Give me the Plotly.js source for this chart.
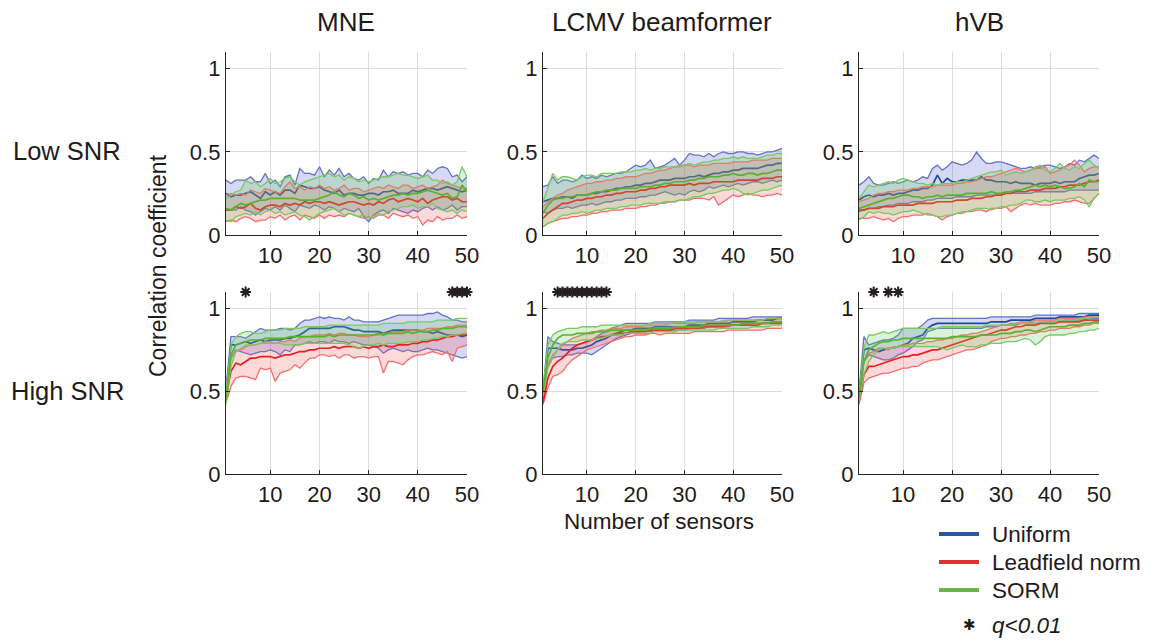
<!DOCTYPE html>
<html>
<head>
<meta charset="utf-8">
<script src="https://cdn.plot.ly/plotly-3.0.1.min.js"></script>
<style>html,body{margin:0;padding:0;background:#fff;}#chart{width:1153px;height:643px;}</style>
</head>
<body>
<div id="chart"></div>
<script>
// ---------------- DATA ----------------
const sensors = [1,2,3,4,5,6,7,8,9,10,11,12,13,14,15,16,17,18,19,20,21,22,23,24,25,26,27,28,29,30,31,32,33,34,35,36,37,38,39,40,41,42,43,44,45,46,47,48,49,50];
const methods = ["MNE", "LCMV beamformer", "hVB"];
const snrLevels = ["Low SNR", "High SNR"];
const seriesNames = ["Uniform", "Leadfield norm", "SORM"];
const yTicks = [0, 0.5, 1];
const xTicks = [10, 20, 30, 40, 50];

// ---- MNE, Low SNR ----
const mneLoUniHi = [0.33,0.31,0.33,0.33,0.33,0.35,0.32,0.32,0.37,0.31,0.33,0.29,0.35,0.36,0.30,0.40,0.37,0.37,0.36,0.41,0.35,0.39,0.36,0.40,0.35,0.37,0.34,0.33,0.35,0.31,0.34,0.33,0.39,0.35,0.38,0.37,0.38,0.36,0.37,0.37,0.35,0.39,0.37,0.40,0.41,0.40,0.35,0.36,0.32,0.35];
const mneLoUniMean = [0.25,0.23,0.24,0.24,0.25,0.26,0.24,0.22,0.26,0.24,0.26,0.24,0.27,0.27,0.25,0.30,0.29,0.28,0.28,0.29,0.27,0.26,0.25,0.27,0.24,0.25,0.25,0.24,0.24,0.25,0.25,0.24,0.26,0.26,0.27,0.25,0.25,0.25,0.27,0.26,0.27,0.28,0.28,0.27,0.28,0.29,0.28,0.27,0.26,0.27];
const mneLoUniLo = [0.16,0.15,0.15,0.17,0.15,0.14,0.12,0.14,0.16,0.15,0.17,0.15,0.18,0.16,0.14,0.18,0.17,0.16,0.18,0.17,0.15,0.17,0.16,0.14,0.16,0.15,0.14,0.16,0.11,0.08,0.12,0.14,0.15,0.13,0.16,0.15,0.14,0.13,0.15,0.14,0.16,0.17,0.15,0.17,0.15,0.16,0.18,0.15,0.17,0.17];
const mneLoLfnHi = [0.24,0.25,0.24,0.25,0.24,0.27,0.26,0.25,0.28,0.27,0.26,0.25,0.29,0.32,0.28,0.29,0.27,0.29,0.28,0.30,0.28,0.29,0.27,0.28,0.30,0.27,0.28,0.28,0.26,0.27,0.28,0.29,0.28,0.30,0.29,0.28,0.30,0.30,0.28,0.29,0.30,0.28,0.29,0.30,0.33,0.31,0.30,0.29,0.28,0.28];
const mneLoLfnMean = [0.15,0.15,0.17,0.16,0.17,0.19,0.16,0.15,0.17,0.18,0.18,0.17,0.19,0.18,0.19,0.18,0.20,0.19,0.20,0.20,0.19,0.20,0.19,0.18,0.19,0.20,0.20,0.19,0.18,0.19,0.18,0.20,0.19,0.21,0.22,0.20,0.21,0.22,0.21,0.20,0.22,0.19,0.21,0.22,0.23,0.23,0.21,0.22,0.20,0.20];
const mneLoLfnLo = [0.08,0.09,0.08,0.10,0.11,0.10,0.08,0.09,0.09,0.11,0.10,0.12,0.09,0.11,0.12,0.09,0.12,0.11,0.10,0.12,0.10,0.12,0.11,0.12,0.11,0.13,0.12,0.11,0.10,0.11,0.10,0.12,0.12,0.10,0.13,0.12,0.11,0.12,0.10,0.11,0.06,0.09,0.08,0.11,0.09,0.10,0.10,0.12,0.10,0.11];
const mneLoSormHi = [0.22,0.24,0.26,0.27,0.33,0.31,0.32,0.29,0.31,0.34,0.31,0.32,0.34,0.35,0.32,0.30,0.32,0.33,0.34,0.35,0.36,0.37,0.35,0.36,0.33,0.35,0.34,0.32,0.33,0.32,0.33,0.34,0.35,0.35,0.36,0.37,0.36,0.36,0.35,0.34,0.35,0.36,0.33,0.33,0.31,0.32,0.30,0.32,0.41,0.35];
const mneLoSormMean = [0.16,0.15,0.17,0.19,0.18,0.19,0.20,0.21,0.21,0.22,0.22,0.22,0.22,0.22,0.22,0.21,0.21,0.21,0.21,0.22,0.23,0.24,0.26,0.24,0.23,0.25,0.24,0.22,0.23,0.21,0.22,0.21,0.22,0.23,0.24,0.24,0.25,0.24,0.25,0.25,0.26,0.27,0.26,0.25,0.24,0.25,0.22,0.23,0.30,0.26];
const mneLoSormLo = [0.09,0.08,0.11,0.12,0.13,0.12,0.14,0.12,0.14,0.15,0.13,0.14,0.12,0.13,0.14,0.12,0.11,0.09,0.11,0.13,0.14,0.15,0.16,0.14,0.12,0.13,0.12,0.11,0.12,0.10,0.11,0.13,0.12,0.14,0.15,0.16,0.17,0.17,0.18,0.16,0.17,0.17,0.19,0.16,0.15,0.14,0.15,0.13,0.15,0.14];

// ---- LCMV, Low SNR ----
const lcmvLoUniHi = [0.29,0.30,0.35,0.31,0.33,0.33,0.32,0.33,0.36,0.34,0.35,0.34,0.36,0.35,0.36,0.37,0.37,0.38,0.40,0.42,0.41,0.42,0.45,0.40,0.41,0.42,0.44,0.46,0.42,0.45,0.49,0.48,0.48,0.47,0.49,0.47,0.49,0.50,0.49,0.49,0.50,0.50,0.49,0.49,0.48,0.49,0.50,0.50,0.51,0.52];
const lcmvLoUniMean = [0.20,0.21,0.22,0.22,0.23,0.23,0.22,0.24,0.24,0.24,0.25,0.25,0.26,0.26,0.27,0.28,0.28,0.29,0.29,0.30,0.30,0.31,0.31,0.32,0.33,0.33,0.33,0.34,0.34,0.34,0.35,0.35,0.36,0.35,0.36,0.37,0.37,0.38,0.38,0.39,0.39,0.40,0.40,0.40,0.40,0.41,0.42,0.42,0.43,0.43];
const lcmvLoUniLo = [0.14,0.13,0.15,0.16,0.16,0.17,0.16,0.17,0.18,0.18,0.19,0.18,0.19,0.20,0.20,0.21,0.21,0.22,0.22,0.22,0.23,0.23,0.24,0.24,0.25,0.26,0.25,0.24,0.25,0.24,0.26,0.27,0.26,0.27,0.29,0.28,0.29,0.30,0.29,0.30,0.31,0.30,0.31,0.32,0.32,0.31,0.32,0.33,0.32,0.33];
const lcmvLoLfnHi = [0.17,0.20,0.22,0.24,0.25,0.27,0.28,0.29,0.30,0.31,0.31,0.32,0.32,0.33,0.33,0.34,0.34,0.35,0.35,0.35,0.36,0.37,0.37,0.38,0.39,0.39,0.40,0.41,0.41,0.42,0.42,0.41,0.42,0.42,0.42,0.43,0.43,0.43,0.43,0.44,0.44,0.44,0.44,0.45,0.45,0.45,0.45,0.46,0.46,0.46];
const lcmvLoLfnMean = [0.10,0.13,0.15,0.17,0.19,0.19,0.20,0.21,0.21,0.22,0.22,0.23,0.23,0.24,0.24,0.25,0.25,0.26,0.26,0.26,0.27,0.27,0.28,0.28,0.29,0.29,0.30,0.30,0.30,0.30,0.31,0.30,0.31,0.31,0.31,0.32,0.32,0.32,0.32,0.32,0.33,0.33,0.33,0.33,0.33,0.34,0.34,0.34,0.35,0.35];
const lcmvLoLfnLo = [0.05,0.07,0.08,0.09,0.10,0.10,0.11,0.11,0.12,0.12,0.13,0.13,0.14,0.14,0.15,0.15,0.15,0.16,0.16,0.16,0.17,0.17,0.18,0.18,0.19,0.19,0.20,0.20,0.21,0.21,0.21,0.22,0.22,0.22,0.21,0.23,0.18,0.20,0.22,0.24,0.23,0.24,0.25,0.24,0.24,0.23,0.24,0.24,0.25,0.24];
const lcmvLoSormHi = [0.20,0.28,0.37,0.33,0.35,0.35,0.34,0.33,0.35,0.36,0.36,0.35,0.37,0.37,0.37,0.37,0.38,0.38,0.38,0.39,0.39,0.40,0.39,0.40,0.40,0.41,0.41,0.41,0.42,0.42,0.43,0.42,0.43,0.44,0.44,0.45,0.45,0.46,0.46,0.47,0.46,0.47,0.46,0.46,0.46,0.47,0.48,0.48,0.49,0.49];
const lcmvLoSormMean = [0.13,0.18,0.21,0.22,0.22,0.23,0.23,0.24,0.24,0.24,0.25,0.26,0.26,0.27,0.27,0.27,0.28,0.28,0.28,0.28,0.29,0.29,0.29,0.30,0.30,0.31,0.31,0.32,0.32,0.32,0.33,0.33,0.34,0.34,0.35,0.35,0.35,0.36,0.36,0.37,0.36,0.36,0.37,0.37,0.36,0.37,0.37,0.38,0.39,0.39];
const lcmvLoSormLo = [0.05,0.07,0.08,0.10,0.12,0.12,0.13,0.13,0.14,0.13,0.14,0.15,0.15,0.16,0.16,0.16,0.17,0.17,0.18,0.18,0.18,0.19,0.19,0.19,0.19,0.20,0.20,0.20,0.21,0.21,0.22,0.23,0.23,0.24,0.25,0.25,0.26,0.27,0.27,0.28,0.27,0.25,0.24,0.25,0.26,0.27,0.27,0.28,0.29,0.30];

// ---- hVB, Low SNR ----
const hvbLoUniHi = [0.30,0.32,0.35,0.31,0.30,0.30,0.31,0.32,0.31,0.32,0.33,0.32,0.33,0.35,0.34,0.40,0.42,0.39,0.41,0.44,0.43,0.42,0.43,0.45,0.50,0.46,0.43,0.43,0.44,0.44,0.43,0.42,0.41,0.40,0.40,0.41,0.40,0.41,0.42,0.42,0.41,0.40,0.41,0.43,0.42,0.45,0.44,0.46,0.48,0.46];
const hvbLoUniMean = [0.21,0.23,0.24,0.23,0.24,0.24,0.25,0.24,0.25,0.25,0.26,0.27,0.27,0.28,0.28,0.30,0.36,0.31,0.34,0.32,0.32,0.33,0.33,0.33,0.33,0.35,0.33,0.33,0.32,0.32,0.32,0.31,0.32,0.31,0.31,0.31,0.30,0.31,0.31,0.31,0.32,0.31,0.32,0.32,0.32,0.34,0.35,0.36,0.36,0.37];
const hvbLoUniLo = [0.14,0.15,0.16,0.16,0.17,0.17,0.18,0.18,0.19,0.19,0.19,0.20,0.20,0.20,0.21,0.21,0.22,0.22,0.22,0.22,0.23,0.23,0.23,0.23,0.24,0.24,0.24,0.24,0.24,0.24,0.25,0.25,0.25,0.25,0.25,0.25,0.26,0.26,0.26,0.26,0.26,0.26,0.26,0.27,0.27,0.27,0.27,0.27,0.27,0.27];
const hvbLoLfnHi = [0.20,0.21,0.22,0.24,0.25,0.25,0.26,0.26,0.27,0.27,0.27,0.28,0.28,0.29,0.29,0.29,0.30,0.30,0.30,0.30,0.31,0.31,0.32,0.32,0.33,0.34,0.35,0.35,0.36,0.37,0.38,0.39,0.40,0.39,0.38,0.39,0.40,0.40,0.41,0.37,0.38,0.39,0.41,0.42,0.45,0.42,0.38,0.40,0.41,0.41];
const hvbLoLfnMean = [0.15,0.15,0.16,0.16,0.16,0.17,0.17,0.17,0.18,0.18,0.18,0.18,0.19,0.19,0.19,0.19,0.20,0.20,0.20,0.20,0.21,0.21,0.21,0.22,0.22,0.22,0.23,0.23,0.24,0.24,0.25,0.25,0.26,0.26,0.26,0.27,0.27,0.27,0.28,0.28,0.28,0.29,0.29,0.30,0.30,0.30,0.31,0.32,0.32,0.33];
const hvbLoLfnLo = [0.10,0.10,0.10,0.11,0.10,0.09,0.10,0.08,0.10,0.11,0.11,0.12,0.12,0.12,0.13,0.12,0.11,0.09,0.11,0.12,0.13,0.13,0.14,0.14,0.15,0.15,0.14,0.16,0.16,0.16,0.17,0.14,0.16,0.18,0.19,0.18,0.19,0.18,0.18,0.18,0.19,0.19,0.20,0.20,0.21,0.20,0.19,0.19,0.22,0.25];
const hvbLoSormHi = [0.22,0.26,0.30,0.29,0.30,0.31,0.32,0.31,0.33,0.34,0.33,0.32,0.31,0.31,0.30,0.31,0.30,0.31,0.31,0.31,0.32,0.32,0.33,0.34,0.35,0.36,0.37,0.38,0.38,0.39,0.36,0.37,0.38,0.37,0.38,0.39,0.41,0.42,0.39,0.38,0.40,0.43,0.40,0.39,0.41,0.40,0.43,0.45,0.42,0.40];
const hvbLoSormMean = [0.16,0.17,0.18,0.19,0.20,0.21,0.22,0.22,0.23,0.24,0.24,0.23,0.23,0.22,0.23,0.23,0.24,0.23,0.24,0.24,0.24,0.24,0.25,0.25,0.25,0.25,0.25,0.26,0.25,0.25,0.26,0.26,0.27,0.27,0.28,0.29,0.30,0.29,0.30,0.29,0.30,0.29,0.28,0.28,0.29,0.31,0.29,0.33,0.32,0.32];
const hvbLoSormLo = [0.09,0.11,0.14,0.13,0.14,0.13,0.13,0.12,0.13,0.14,0.14,0.15,0.14,0.13,0.12,0.12,0.11,0.11,0.12,0.12,0.13,0.14,0.14,0.15,0.16,0.16,0.16,0.15,0.16,0.17,0.17,0.18,0.18,0.19,0.21,0.21,0.20,0.20,0.21,0.20,0.21,0.21,0.21,0.22,0.22,0.23,0.21,0.17,0.22,0.25];

// ---- MNE, High SNR ----
const mneHiUniHi = [0.52,0.83,0.83,0.83,0.82,0.84,0.86,0.88,0.87,0.87,0.87,0.88,0.88,0.87,0.88,0.91,0.93,0.93,0.94,0.95,0.94,0.95,0.94,0.94,0.93,0.95,0.93,0.93,0.92,0.92,0.92,0.92,0.93,0.94,0.95,0.96,0.96,0.96,0.96,0.96,0.96,0.97,0.97,0.98,0.96,0.95,0.93,0.93,0.92,0.92];
const mneHiUniMean = [0.48,0.78,0.78,0.79,0.80,0.79,0.80,0.81,0.80,0.81,0.81,0.81,0.82,0.82,0.83,0.84,0.86,0.88,0.88,0.88,0.88,0.88,0.89,0.89,0.89,0.88,0.87,0.87,0.86,0.86,0.86,0.86,0.85,0.86,0.87,0.87,0.87,0.87,0.87,0.87,0.86,0.86,0.85,0.86,0.85,0.84,0.84,0.84,0.83,0.84];
const mneHiUniLo = [0.45,0.70,0.75,0.74,0.73,0.72,0.73,0.74,0.74,0.75,0.74,0.72,0.75,0.74,0.78,0.78,0.79,0.80,0.79,0.80,0.80,0.79,0.81,0.80,0.80,0.79,0.80,0.79,0.78,0.78,0.77,0.76,0.73,0.75,0.76,0.75,0.74,0.75,0.74,0.74,0.75,0.76,0.75,0.75,0.74,0.73,0.72,0.71,0.70,0.71];
const mneHiLfnHi = [0.52,0.70,0.74,0.75,0.77,0.78,0.78,0.79,0.80,0.80,0.79,0.80,0.80,0.81,0.80,0.82,0.83,0.83,0.84,0.84,0.84,0.85,0.84,0.85,0.85,0.84,0.84,0.83,0.83,0.83,0.84,0.84,0.85,0.85,0.86,0.86,0.86,0.87,0.87,0.87,0.87,0.88,0.88,0.88,0.88,0.89,0.89,0.90,0.90,0.90];
const mneHiLfnMean = [0.47,0.62,0.67,0.66,0.68,0.70,0.70,0.71,0.71,0.71,0.70,0.71,0.72,0.72,0.73,0.74,0.74,0.75,0.75,0.76,0.76,0.76,0.77,0.76,0.77,0.77,0.77,0.76,0.77,0.76,0.77,0.77,0.78,0.77,0.77,0.78,0.78,0.78,0.79,0.79,0.80,0.80,0.81,0.81,0.82,0.83,0.83,0.84,0.84,0.84];
const mneHiLfnLo = [0.43,0.53,0.58,0.59,0.59,0.58,0.57,0.64,0.63,0.64,0.56,0.61,0.62,0.63,0.66,0.64,0.67,0.70,0.70,0.72,0.72,0.71,0.72,0.70,0.72,0.72,0.70,0.71,0.71,0.70,0.71,0.71,0.61,0.68,0.68,0.67,0.66,0.69,0.71,0.72,0.72,0.73,0.74,0.73,0.72,0.74,0.68,0.76,0.77,0.78];
const mneHiSormHi = [0.50,0.78,0.83,0.85,0.86,0.86,0.85,0.85,0.86,0.87,0.87,0.87,0.88,0.88,0.88,0.88,0.89,0.89,0.89,0.89,0.89,0.90,0.90,0.90,0.90,0.90,0.90,0.90,0.90,0.90,0.90,0.90,0.91,0.91,0.91,0.91,0.91,0.92,0.92,0.92,0.92,0.92,0.92,0.93,0.93,0.93,0.93,0.94,0.94,0.94];
const mneHiSormMean = [0.45,0.72,0.78,0.79,0.80,0.81,0.81,0.81,0.82,0.82,0.82,0.82,0.82,0.83,0.83,0.83,0.83,0.83,0.83,0.83,0.83,0.84,0.83,0.84,0.84,0.84,0.84,0.84,0.84,0.84,0.84,0.85,0.84,0.85,0.85,0.85,0.85,0.86,0.85,0.86,0.86,0.86,0.87,0.87,0.88,0.88,0.88,0.89,0.89,0.89];
const mneHiSormLo = [0.42,0.65,0.74,0.76,0.78,0.78,0.78,0.79,0.79,0.79,0.79,0.79,0.78,0.78,0.78,0.78,0.79,0.79,0.79,0.79,0.79,0.79,0.79,0.79,0.79,0.78,0.77,0.76,0.77,0.78,0.78,0.79,0.78,0.79,0.79,0.79,0.79,0.80,0.80,0.80,0.81,0.81,0.82,0.82,0.83,0.83,0.84,0.84,0.85,0.85];

// ---- LCMV, High SNR ----
const lcmvHiUniHi = [0.50,0.83,0.80,0.79,0.78,0.78,0.78,0.78,0.79,0.80,0.81,0.83,0.85,0.86,0.88,0.89,0.90,0.91,0.91,0.91,0.91,0.91,0.91,0.92,0.92,0.92,0.92,0.92,0.92,0.92,0.93,0.93,0.93,0.93,0.93,0.93,0.94,0.94,0.94,0.94,0.94,0.94,0.94,0.95,0.95,0.95,0.95,0.95,0.95,0.95];
const lcmvHiUniMean = [0.47,0.76,0.76,0.76,0.75,0.75,0.75,0.76,0.76,0.77,0.78,0.80,0.81,0.82,0.84,0.85,0.86,0.87,0.87,0.88,0.88,0.88,0.88,0.89,0.89,0.89,0.89,0.89,0.89,0.89,0.90,0.90,0.90,0.90,0.91,0.91,0.91,0.91,0.91,0.92,0.92,0.92,0.92,0.92,0.93,0.93,0.93,0.93,0.94,0.94];
const lcmvHiUniLo = [0.45,0.66,0.70,0.71,0.71,0.72,0.72,0.73,0.73,0.73,0.72,0.74,0.76,0.78,0.80,0.82,0.83,0.84,0.85,0.85,0.86,0.86,0.86,0.87,0.87,0.87,0.87,0.87,0.87,0.87,0.88,0.88,0.88,0.88,0.89,0.89,0.89,0.89,0.89,0.90,0.90,0.90,0.90,0.91,0.91,0.91,0.91,0.91,0.92,0.92];
const lcmvHiLfnHi = [0.47,0.66,0.72,0.75,0.78,0.80,0.82,0.83,0.84,0.85,0.86,0.86,0.87,0.87,0.88,0.88,0.88,0.89,0.89,0.89,0.89,0.90,0.90,0.90,0.90,0.90,0.91,0.91,0.91,0.91,0.91,0.91,0.92,0.92,0.92,0.92,0.92,0.92,0.93,0.93,0.93,0.93,0.93,0.93,0.93,0.93,0.94,0.94,0.94,0.94];
const lcmvHiLfnMean = [0.43,0.58,0.65,0.68,0.70,0.73,0.76,0.78,0.79,0.80,0.81,0.82,0.83,0.83,0.84,0.84,0.85,0.85,0.86,0.86,0.86,0.86,0.87,0.87,0.87,0.87,0.87,0.88,0.88,0.88,0.88,0.88,0.88,0.89,0.89,0.89,0.89,0.89,0.90,0.90,0.90,0.90,0.90,0.90,0.90,0.91,0.91,0.91,0.91,0.91];
const lcmvHiLfnLo = [0.42,0.52,0.59,0.60,0.62,0.66,0.69,0.71,0.73,0.75,0.76,0.77,0.78,0.79,0.80,0.81,0.82,0.83,0.83,0.84,0.84,0.84,0.85,0.85,0.84,0.85,0.85,0.85,0.85,0.85,0.85,0.86,0.86,0.86,0.86,0.86,0.86,0.86,0.87,0.87,0.87,0.87,0.87,0.87,0.87,0.87,0.88,0.88,0.88,0.88];
const lcmvHiSormHi = [0.52,0.78,0.84,0.86,0.87,0.88,0.88,0.88,0.89,0.89,0.89,0.89,0.90,0.90,0.90,0.90,0.90,0.90,0.90,0.90,0.90,0.90,0.91,0.91,0.91,0.91,0.91,0.91,0.92,0.92,0.92,0.92,0.92,0.92,0.92,0.92,0.92,0.93,0.93,0.93,0.93,0.93,0.93,0.93,0.93,0.93,0.94,0.94,0.94,0.94];
const lcmvHiSormMean = [0.50,0.70,0.78,0.82,0.84,0.84,0.84,0.85,0.85,0.85,0.85,0.86,0.86,0.86,0.87,0.87,0.87,0.87,0.87,0.87,0.87,0.87,0.88,0.88,0.88,0.88,0.88,0.89,0.89,0.89,0.89,0.89,0.89,0.90,0.90,0.90,0.90,0.90,0.90,0.90,0.90,0.91,0.91,0.91,0.91,0.91,0.91,0.92,0.92,0.92];
const lcmvHiSormLo = [0.47,0.64,0.70,0.75,0.79,0.80,0.80,0.80,0.81,0.81,0.81,0.82,0.82,0.83,0.84,0.84,0.84,0.85,0.85,0.85,0.85,0.85,0.85,0.86,0.86,0.86,0.86,0.86,0.87,0.87,0.87,0.87,0.87,0.87,0.87,0.87,0.88,0.88,0.88,0.88,0.88,0.88,0.88,0.89,0.89,0.89,0.89,0.90,0.90,0.90];

// ---- hVB, High SNR ----
const hvbHiUniHi = [0.50,0.83,0.78,0.79,0.80,0.81,0.81,0.82,0.84,0.88,0.88,0.88,0.88,0.90,0.93,0.94,0.94,0.94,0.94,0.94,0.94,0.94,0.94,0.94,0.94,0.94,0.94,0.95,0.95,0.95,0.95,0.95,0.95,0.95,0.95,0.95,0.96,0.96,0.96,0.96,0.96,0.96,0.96,0.96,0.96,0.97,0.97,0.97,0.97,0.97];
const hvbHiUniMean = [0.47,0.75,0.76,0.75,0.74,0.75,0.76,0.76,0.77,0.78,0.79,0.82,0.83,0.84,0.88,0.90,0.91,0.91,0.91,0.91,0.91,0.91,0.91,0.91,0.91,0.91,0.91,0.92,0.92,0.92,0.92,0.93,0.93,0.93,0.93,0.93,0.94,0.94,0.94,0.94,0.94,0.95,0.95,0.95,0.95,0.95,0.95,0.96,0.96,0.96];
const hvbHiUniLo = [0.45,0.68,0.72,0.71,0.70,0.69,0.69,0.70,0.72,0.73,0.75,0.77,0.80,0.81,0.86,0.87,0.88,0.88,0.88,0.88,0.88,0.88,0.88,0.88,0.88,0.88,0.89,0.89,0.89,0.90,0.90,0.90,0.90,0.91,0.91,0.91,0.91,0.91,0.92,0.92,0.92,0.92,0.93,0.93,0.93,0.93,0.93,0.94,0.94,0.94];
const hvbHiLfnHi = [0.48,0.68,0.73,0.74,0.76,0.76,0.75,0.77,0.77,0.78,0.78,0.79,0.79,0.79,0.80,0.80,0.81,0.81,0.82,0.82,0.83,0.84,0.84,0.85,0.85,0.86,0.87,0.88,0.89,0.90,0.90,0.91,0.91,0.92,0.92,0.92,0.93,0.93,0.93,0.93,0.93,0.94,0.94,0.94,0.94,0.94,0.95,0.95,0.95,0.95];
const hvbHiLfnMean = [0.44,0.60,0.65,0.65,0.66,0.67,0.68,0.69,0.70,0.71,0.71,0.72,0.72,0.73,0.74,0.75,0.75,0.76,0.77,0.78,0.79,0.80,0.81,0.82,0.83,0.84,0.84,0.85,0.86,0.87,0.87,0.88,0.89,0.89,0.90,0.90,0.90,0.91,0.91,0.91,0.91,0.92,0.92,0.92,0.92,0.92,0.93,0.93,0.93,0.93];
const hvbHiLfnLo = [0.42,0.55,0.58,0.59,0.60,0.61,0.61,0.62,0.63,0.64,0.64,0.65,0.65,0.67,0.68,0.69,0.69,0.70,0.71,0.72,0.73,0.74,0.75,0.75,0.76,0.77,0.78,0.80,0.81,0.82,0.82,0.83,0.83,0.84,0.84,0.85,0.85,0.86,0.86,0.87,0.87,0.88,0.88,0.88,0.89,0.89,0.90,0.90,0.91,0.91];
const hvbHiSormHi = [0.50,0.76,0.84,0.84,0.85,0.86,0.85,0.86,0.87,0.88,0.88,0.88,0.88,0.88,0.88,0.88,0.88,0.89,0.89,0.89,0.89,0.89,0.89,0.89,0.89,0.89,0.90,0.90,0.90,0.90,0.90,0.90,0.91,0.91,0.91,0.91,0.91,0.92,0.92,0.92,0.92,0.93,0.93,0.93,0.93,0.94,0.94,0.94,0.95,0.95];
const hvbHiSormMean = [0.47,0.68,0.75,0.77,0.79,0.80,0.80,0.81,0.81,0.82,0.82,0.82,0.82,0.82,0.82,0.82,0.82,0.82,0.82,0.83,0.83,0.83,0.83,0.83,0.83,0.84,0.84,0.84,0.84,0.85,0.85,0.85,0.86,0.86,0.87,0.87,0.86,0.87,0.88,0.89,0.89,0.89,0.89,0.90,0.90,0.90,0.91,0.91,0.92,0.92];
const hvbHiSormLo = [0.44,0.60,0.68,0.72,0.75,0.76,0.76,0.76,0.77,0.77,0.77,0.77,0.77,0.77,0.77,0.77,0.77,0.76,0.75,0.76,0.77,0.78,0.77,0.77,0.77,0.78,0.78,0.79,0.79,0.79,0.80,0.80,0.80,0.81,0.82,0.81,0.78,0.80,0.83,0.84,0.84,0.84,0.84,0.85,0.85,0.86,0.86,0.87,0.87,0.88];

// significant sensor counts (q<0.01), High SNR row
const mneHiSig = [5, 47, 48, 49, 50];
const lcmvHiSig = [4, 5, 6, 7, 8, 9, 10, 11, 12, 13, 14];
const hvbHiSig = [4, 7, 9];

// ---------------- STYLE ----------------
const FONT = '"Liberation Sans", Arial, Helvetica, sans-serif';
const TXT = '#1f1a1b';
const styles = [
  {mean: 'rgb(32,72,160)',  edge: 'rgb(100,115,198)', fill: 'rgba(80,95,210,0.24)'},
  {mean: 'rgb(235,32,36)',  edge: 'rgb(245,110,110)', fill: 'rgba(245,80,80,0.22)'},
  {mean: 'rgb(88,178,48)',  edge: 'rgb(122,200,98)', fill: 'rgba(110,200,90,0.24)'}
];
const legendColors = ['#2a54a4', '#e0332f', '#6cb446'];

const panels = [
  {xa: 'x',  ya: 'y',  series: [[mneLoUniMean, mneLoUniLo, mneLoUniHi], [mneLoLfnMean, mneLoLfnLo, mneLoLfnHi], [mneLoSormMean, mneLoSormLo, mneLoSormHi]], sig: []},
  {xa: 'x2', ya: 'y2', series: [[lcmvLoUniMean, lcmvLoUniLo, lcmvLoUniHi], [lcmvLoLfnMean, lcmvLoLfnLo, lcmvLoLfnHi], [lcmvLoSormMean, lcmvLoSormLo, lcmvLoSormHi]], sig: []},
  {xa: 'x3', ya: 'y3', series: [[hvbLoUniMean, hvbLoUniLo, hvbLoUniHi], [hvbLoLfnMean, hvbLoLfnLo, hvbLoLfnHi], [hvbLoSormMean, hvbLoSormLo, hvbLoSormHi]], sig: []},
  {xa: 'x4', ya: 'y4', series: [[mneHiUniMean, mneHiUniLo, mneHiUniHi], [mneHiLfnMean, mneHiLfnLo, mneHiLfnHi], [mneHiSormMean, mneHiSormLo, mneHiSormHi]], sig: mneHiSig},
  {xa: 'x5', ya: 'y5', series: [[lcmvHiUniMean, lcmvHiUniLo, lcmvHiUniHi], [lcmvHiLfnMean, lcmvHiLfnLo, lcmvHiLfnHi], [lcmvHiSormMean, lcmvHiSormLo, lcmvHiSormHi]], sig: lcmvHiSig},
  {xa: 'x6', ya: 'y6', series: [[hvbHiUniMean, hvbHiUniLo, hvbHiUniHi], [hvbHiLfnMean, hvbHiLfnLo, hvbHiLfnHi], [hvbHiSormMean, hvbHiSormLo, hvbHiSormHi]], sig: hvbHiSig}
];

const SIG_LEVEL = 1.1;
const traces = [];
panels.forEach(p => {
  p.series.forEach((s, i) => {
    const st = styles[i];
    traces.push({x: sensors, y: s[2], xaxis: p.xa, yaxis: p.ya, mode: 'lines', type: 'scatter',
      line: {color: st.edge, width: 1.3}, hoverinfo: 'skip', showlegend: false});
    traces.push({x: sensors, y: s[1], xaxis: p.xa, yaxis: p.ya, mode: 'lines', type: 'scatter',
      fill: 'tonexty', fillcolor: st.fill, line: {color: st.edge, width: 1.3}, hoverinfo: 'skip', showlegend: false});
    traces.push({x: sensors, y: s[0], xaxis: p.xa, yaxis: p.ya, mode: 'lines', type: 'scatter',
      line: {color: st.mean, width: 1.7}, name: seriesNames[i], showlegend: false});
  });
  if (p.sig.length) {
    traces.push({x: p.sig, y: p.sig.map(() => SIG_LEVEL), xaxis: p.xa, yaxis: p.ya, mode: 'markers', type: 'scatter',
      cliponaxis: false, marker: {symbol: 'asterisk-open', size: 9, color: '#231f20', line: {color: '#231f20', width: 2}},
      showlegend: false, hoverinfo: 'skip'});
  }
});

// ---------------- LAYOUT ----------------
const W = 1153, H = 643;
const px = v => v / W;
const py = v => 1 - v / H;
const xDomains = [[px(226), px(467)], [px(543), px(782)], [px(859), px(1099)]];
const yDomains = [[py(235), py(52)], [py(474), py(292)]];

const axisBase = {
  showgrid: true, gridcolor: '#dcdcdc', gridwidth: 1,
  showline: true, linecolor: '#262626', linewidth: 1.2,
  ticks: 'inside', ticklen: 4, tickcolor: '#262626', tickwidth: 1,
  zeroline: false, fixedrange: true,
  tickfont: {family: FONT, size: 22, color: TXT}
};

const layout = {
  width: W, height: H,
  margin: {l: 0, r: 0, t: 0, b: 0},
  paper_bgcolor: '#fff', plot_bgcolor: '#fff',
  showlegend: false,
  font: {family: FONT, color: TXT},
  annotations: [], shapes: []
};

for (let k = 0; k < 6; k++) {
  const col = k % 3, row = Math.floor(k / 3);
  const sfx = k === 0 ? '' : String(k + 1);
  layout['xaxis' + sfx] = Object.assign({}, axisBase, {
    domain: xDomains[col], range: [1, 50], tickvals: xTicks, ticktext: xTicks.map(String),
    anchor: 'y' + sfx
  });
  layout['yaxis' + sfx] = Object.assign({}, axisBase, {
    domain: yDomains[row], range: [0, 1.1], tickvals: yTicks, ticktext: yTicks.map(String),
    anchor: 'x' + sfx
  });
}

// column titles
const titleX = [346, 662, 979];
methods.forEach((m, i) => {
  layout.annotations.push({text: m, x: px(titleX[i]), y: py(22), xref: 'paper', yref: 'paper',
    showarrow: false, xanchor: 'center', yanchor: 'middle', font: {family: FONT, size: 26, color: TXT}});
});
// row labels
const rowY = [151, 391];
snrLevels.forEach((s, i) => {
  layout.annotations.push({text: s, x: px(67), y: py(rowY[i]), xref: 'paper', yref: 'paper',
    showarrow: false, xanchor: 'center', yanchor: 'middle', font: {family: FONT, size: 25.5, color: TXT}});
});
// axis titles
layout.annotations.push({text: 'Correlation coefficient', x: px(158), y: py(266), xref: 'paper', yref: 'paper',
  showarrow: false, textangle: -90, xanchor: 'center', yanchor: 'middle', font: {family: FONT, size: 23, color: TXT}});
layout.annotations.push({text: 'Number of sensors', x: px(659), y: py(521), xref: 'paper', yref: 'paper',
  showarrow: false, xanchor: 'center', yanchor: 'middle', font: {family: FONT, size: 22.5, color: TXT}});

// legend
const legY = [534, 562, 590];
seriesNames.forEach((n, i) => {
  layout.shapes.push({type: 'line', xref: 'paper', yref: 'paper', x0: px(939), x1: px(979), y0: py(legY[i]), y1: py(legY[i]),
    line: {color: legendColors[i], width: 4}});
  layout.annotations.push({text: n, x: px(990), y: py(legY[i]), xref: 'paper', yref: 'paper', showarrow: false,
    xanchor: 'left', yanchor: 'middle', font: {family: FONT, size: 22.5, color: TXT}});
});
layout.annotations.push({text: '✱', x: px(969), y: py(625), xref: 'paper', yref: 'paper', showarrow: false,
  xanchor: 'center', yanchor: 'middle', font: {family: '"DejaVu Sans", sans-serif', size: 15, color: TXT}});
layout.annotations.push({text: '<i>q<0.01</i>', x: px(990), y: py(625), xref: 'paper', yref: 'paper', showarrow: false,
  xanchor: 'left', yanchor: 'middle', font: {family: FONT, size: 22.5, color: TXT}});

Plotly.newPlot('chart', traces, layout, {staticPlot: true, displayModeBar: false});
</script>
</body>
</html>
